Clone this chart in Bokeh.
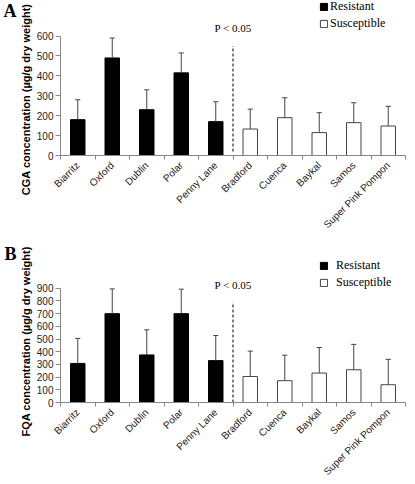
import math
import numpy as np
from bokeh.plotting import figure
from bokeh.models import (FixedTicker, Label, Legend, LegendItem, Range1d,
                          LinearAxis)
from bokeh.layouts import column
from bokeh.embed import file_html
from bokeh.resources import INLINE

cultivars = ["Biarritz", "Oxford", "Dublin", "Polar", "Penny Lane",
             "Bradford", "Cuenca", "Baykal", "Samos", "Super Pink Pompon"]
groups = ["Resistant"] * 5 + ["Susceptible"] * 5

cga_mean = [180, 490, 230, 415, 170, 133, 190, 115, 165, 148]
cga_err = [100, 100, 100, 100, 100, 100, 100, 100, 100, 99]
cga_ticks = [0, 100, 200, 300, 400, 500, 600]

fqa_mean = [308, 700, 375, 700, 330, 205, 172, 232, 258, 140]
fqa_err = [197, 195, 198, 193, 198, 200, 201, 201, 200, 200]
fqa_ticks = [0, 100, 200, 300, 400, 500, 600, 700, 800, 900]

SANS = "Liberation Sans"
SERIF = "Liberation Serif"
AX = "#888888"
W = 415
NBSP_PAD = "\u00a0" * 14   # shifts the centred axis title down onto the tick span


def make_panel(letter, means, errs, ticks, ylabel, height, bottom, right,
               axis_top_px, dash_lo, dash_hi, p_off, letter_y, leg_vy,
               leg_standoff):
    n = len(cultivars)
    xs = np.arange(n)
    frame_h = height - bottom
    top_tick = ticks[-1]
    y_end = top_tick * frame_h / (frame_h - axis_top_px)
    p = figure(width=W, height=height,
               x_range=Range1d(-0.5, n - 0.5), y_range=Range1d(0, y_end),
               output_backend="svg", toolbar_location=None,
               min_border_left=58, min_border_right=right,
               min_border_top=0, min_border_bottom=bottom)
    p.outline_line_color = None
    p.xgrid.visible = False
    p.ygrid.visible = False
    p.background_fill_color = "white"

    m = np.array(means, dtype=float)
    e = np.array(errs, dtype=float)
    res = np.array([g == "Resistant" for g in groups])
    sus = ~res

    r_res = p.vbar(x=xs[res], top=m[res], width=0.42, bottom=0,
                   fill_color="black", line_color="black", line_width=1)
    r_sus = p.vbar(x=xs[sus], top=m[sus], width=0.42, bottom=0,
                   fill_color="white", line_color="#444444", line_width=1)

    # upper error bars with caps
    p.segment(x0=xs, y0=m, x1=xs, y1=m + e, line_color="#444444", line_width=1)
    p.segment(x0=xs - 0.075, y0=m + e, x1=xs + 0.075, y1=m + e,
              line_color="#444444", line_width=1)

    # dashed separator between groups
    p.segment(x0=[4.5], y0=[dash_lo], x1=[4.5], y1=[dash_hi],
              line_color="black", line_width=1, line_dash="3 2")

    # x axis: labels at bar centres, small ticks between categories
    xa = p.xaxis[0]
    xa.ticker = FixedTicker(ticks=[int(v) for v in xs],
                            minor_ticks=list(np.arange(n + 1) - 0.5))
    xa.major_label_overrides = {int(i): c for i, c in zip(xs, cultivars)}
    xa.major_label_orientation = math.pi / 4
    xa.major_tick_out = 0
    xa.major_tick_in = 0
    xa.minor_tick_out = 4
    xa.minor_tick_in = 0
    xa.minor_tick_line_color = AX
    xa.axis_line_color = AX
    xa.major_label_text_font = SANS
    xa.major_label_text_font_size = "10px"
    xa.major_label_text_color = "#222222"
    xa.major_label_standoff = 4

    # y axis, bounded to the tick range
    ya = p.yaxis[0]
    ya.bounds = (0, top_tick)
    ya.ticker = FixedTicker(ticks=ticks, minor_ticks=[])
    ya.axis_line_color = AX
    ya.major_tick_line_color = AX
    ya.major_tick_out = 5
    ya.major_tick_in = 0
    ya.major_label_text_font = SANS
    ya.major_label_text_font_size = "10px"
    ya.major_label_text_color = "#222222"
    ya.major_label_standoff = 2
    ya.axis_label = ylabel + NBSP_PAD
    ya.axis_label_text_font = SANS
    ya.axis_label_text_font_style = "bold"
    ya.axis_label_text_font_size = "11px"
    ya.axis_label_text_color = "black"
    ya.axis_label_standoff = 2

    # panel letter as an outer left axis label
    la = LinearAxis(ticker=FixedTicker(ticks=[letter_y], minor_ticks=[]),
                    major_label_overrides={letter_y: letter})
    la.axis_line_color = None
    la.major_tick_line_color = None
    la.major_tick_out = 0
    la.major_tick_in = 0
    la.major_label_standoff = 0
    la.major_label_text_font = SERIF
    la.major_label_text_font_style = "bold"
    la.major_label_text_font_size = "18px"
    la.major_label_text_color = "black"
    p.add_layout(la, "left")

    # significance note
    p.add_layout(Label(x=4.5, y=top_tick, y_offset=p_off, text="P < 0.05",
                       text_font=SERIF, text_font_size="11px",
                       text_align="center", text_baseline="middle",
                       text_color="black"))

    legend = Legend(items=[LegendItem(label="Resistant", renderers=[r_res]),
                           LegendItem(label="Susceptible", renderers=[r_sus])],
                    location=(259, leg_vy), orientation="vertical",
                    glyph_width=9, glyph_height=9, label_height=17,
                    label_standoff=leg_standoff, spacing=0, padding=0, margin=0,
                    border_line_color=None, background_fill_alpha=0,
                    label_text_font=SERIF, label_text_font_size="12px",
                    label_text_color="black")
    p.add_layout(legend)
    return p


pa = make_panel("A", cga_mean, cga_err, cga_ticks,
                "CGA concentration (µg/g dry weight)",
                height=237, bottom=80, right=10, axis_top_px=36,
                dash_lo=20, dash_hi=550, p_off=8, letter_y=729,
                leg_vy=123, leg_standoff=2)
pb = make_panel("B", fqa_mean, fqa_err, fqa_ticks,
                "FQA concentration (µg/g dry weight)",
                height=247, bottom=80, right=4, axis_top_px=51.4,
                dash_lo=0, dash_hi=790, p_off=3, letter_y=1174,
                leg_vy=111, leg_standoff=8)

layout = column(pa, pb, spacing=0)
open("out.html", "w").write(file_html(layout, INLINE))
